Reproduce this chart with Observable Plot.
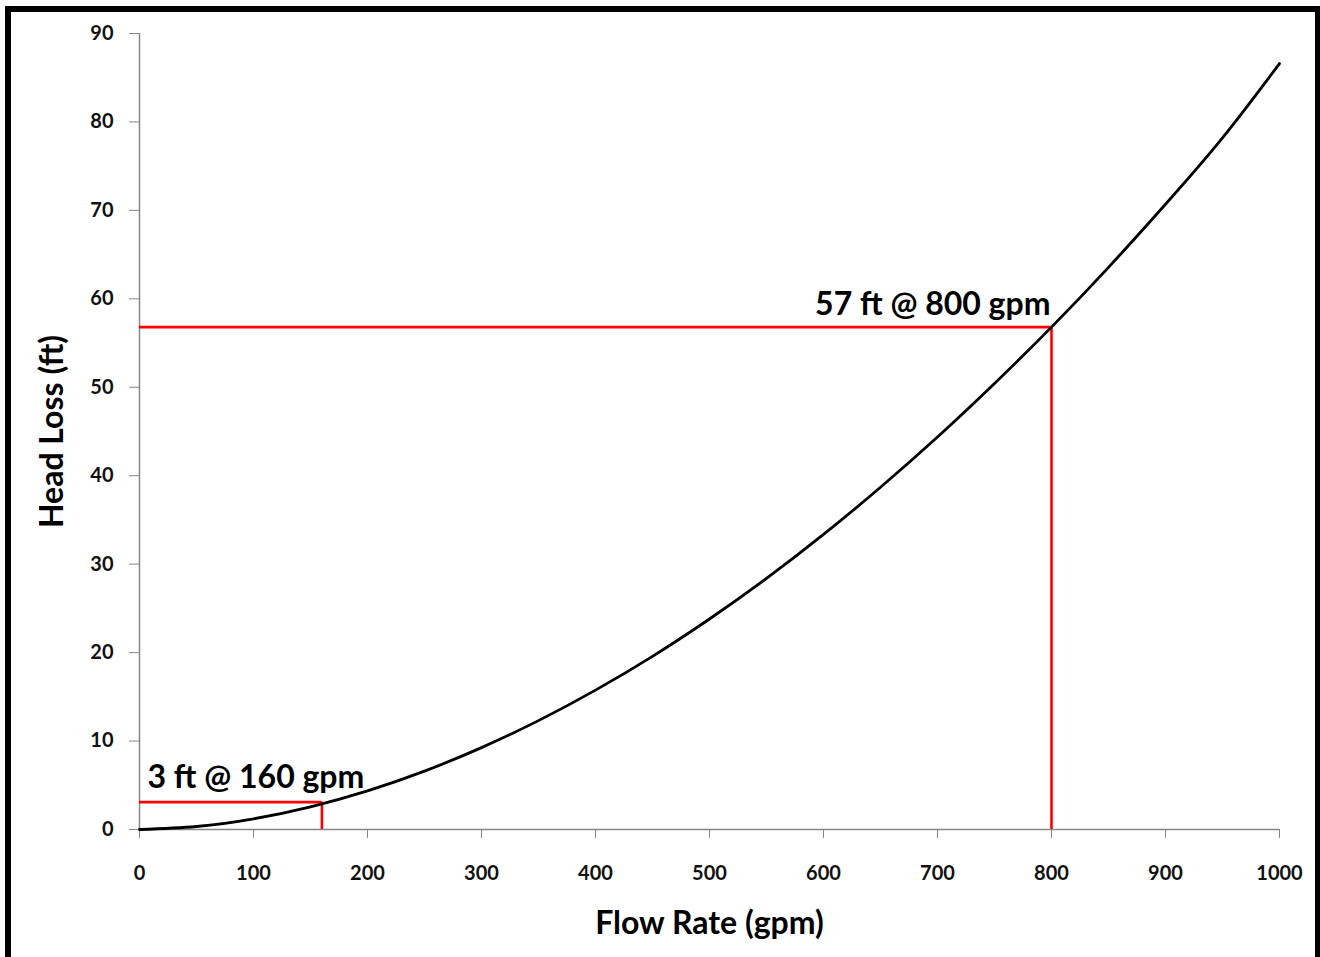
<!DOCTYPE html>
<html>
<head>
<meta charset="utf-8">
<script src="https://cdn.jsdelivr.net/npm/d3@7"></script>
<script src="https://cdn.jsdelivr.net/npm/@observablehq/plot@0.6"></script>
<style>
  body { margin: 0; background: #fff; }
  #wrap { position: relative; width: 1320px; height: 957px; overflow: hidden; background: #fff; }
  #chart { position: absolute; left: 0; top: 0; }
  #frame { position: absolute; left: 5px; top: 6px; width: 1304px; height: 1000px; border: 6px solid #000; pointer-events: none; }
</style>
</head>
<body>
<div id="wrap"><div id="chart"></div><div id="frame"></div></div>
<script>
// Curve
const flowRate = [0, 50, 100, 150, 200, 250, 300, 350, 400, 450, 500, 550, 600, 650, 700, 750, 800, 850, 900, 950, 1000];
const headLoss = [0, 0.34, 1.21, 2.57, 4.37, 6.6, 9.26, 12.31, 15.76, 19.58, 23.8, 28.39, 33.36, 38.7, 44.38, 50.43, 56.8, 63.56, 70.7, 78.2, 86.6];

// Marked operating points
const markFlow = [160, 800];
const markHead = [3.1, 56.8];
const markLabel = ["3 ft @ 160 gpm", "57 ft @ 800 gpm"];

// Axis ticks
const xTicks = [0, 100, 200, 300, 400, 500, 600, 700, 800, 900, 1000];
const yTicks = [0, 10, 20, 30, 40, 50, 60, 70, 80, 90];
const xTitle = "Flow Rate (gpm)";
const yTitle = "Head Loss (ft)";

const curve = flowRate.map((f, i) => ({flow: f, head: headLoss[i]}));
const marks = markFlow.map((f, i) => ({flow: f, head: markHead[i], label: markLabel[i]}));

const axisGray = "#878787";
const font = "Lato, 'Open Sans', sans-serif";

const chart = Plot.plot({
  width: 1320,
  height: 957,
  marginLeft: 139,
  marginRight: 41,
  marginTop: 33,
  marginBottom: 128,
  x: {domain: [0, 1000]},
  y: {domain: [0, 90]},
  style: {fontFamily: font, background: "transparent", color: "#111"},
  marks: [
    Plot.axisX({ticks: xTicks, tickSize: 9, tickPadding: 27, stroke: axisGray, fill: "#111",
      fontSize: 20, fontWeight: "bold", label: null, tickFormat: d => String(d)}),
    Plot.axisY({ticks: yTicks, tickSize: 10, tickPadding: 16, stroke: axisGray, fill: "#111",
      fontSize: 20, fontWeight: "bold", label: null, tickFormat: d => String(d)}),
    Plot.ruleY([0], {stroke: axisGray, strokeWidth: 1.5}),
    Plot.ruleX([0], {stroke: axisGray, strokeWidth: 1.5}),
    Plot.ruleY(marks, {y: "head", x1: 0, x2: "flow", stroke: "#ff0000", strokeWidth: 2.6}),
    Plot.ruleX(marks, {x: "flow", y1: 0, y2: "head", stroke: "#ff0000", strokeWidth: 2.6}),
    Plot.line(curve, {x: "flow", y: "head", curve: "natural", stroke: "#000", strokeWidth: 2.8}),
    Plot.text([marks[0]], {x: 0, y: "head", text: "label", textAnchor: "start", lineAnchor: "bottom",
      dx: 8, dy: -14.5, fontSize: 32, fontWeight: "bold", fill: "#000"}),
    Plot.text([marks[1]], {x: "flow", y: "head", text: "label", textAnchor: "end", lineAnchor: "bottom",
      dx: -1, dy: -12.5, fontSize: 32, fontWeight: "bold", fill: "#000"}),
    Plot.text([xTitle], {frameAnchor: "bottom", dy: 94, textAnchor: "middle", lineAnchor: "middle",
      fontSize: 32, fontWeight: "bold", fill: "#000"}),
    Plot.text([yTitle], {frameAnchor: "left", dx: -87, rotate: -90, textAnchor: "middle", lineAnchor: "middle",
      fontSize: 32, fontWeight: "bold", fill: "#000"})
  ]
});
document.getElementById("chart").appendChild(chart);
</script>
</body>
</html>
